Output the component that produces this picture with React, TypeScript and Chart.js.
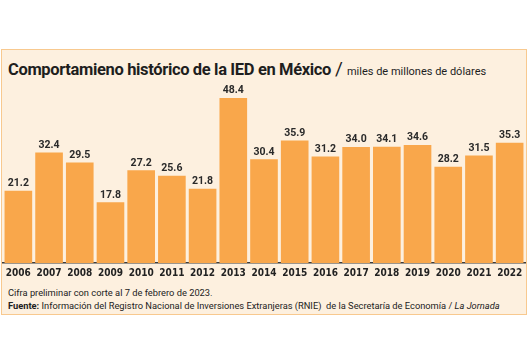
import React, { useEffect, useRef } from "react";
import { Chart, registerables } from "chart.js";

Chart.register(...registerables);

const years = ["2006","2007","2008","2009","2010","2011","2012","2013","2014","2015","2016","2017","2018","2019","2020","2021","2022"];
const values = [21.2, 32.4, 29.5, 17.8, 27.2, 25.6, 21.8, 48.4, 30.4, 35.9, 31.2, 34.0, 34.1, 34.6, 28.2, 31.5, 35.3];

const BAR = "#f9a74b";
const BG = "#fdf0df";
const BORDER = "#f8c98f";

const valueLabels = {
  id: "valueLabels",
  afterDatasetsDraw(chart: any) {
    const ctx = chart.ctx;
    const meta = chart.getDatasetMeta(0);
    ctx.save();
    ctx.font = "bold 10.5px Roboto, 'DejaVu Sans', sans-serif";
    ctx.fillStyle = "#2a2a2a";
    ctx.textAlign = "center";
    ctx.textBaseline = "bottom";
    meta.data.forEach((bar: any, i: number) => {
      ctx.fillText(values[i].toFixed(1), bar.x, bar.y - 2);
    });
    ctx.restore();
  },
};

export default function App() {
  const ref = useRef<HTMLCanvasElement>(null);
  useEffect(() => {
    document.body.style.margin = "0";
    const chart = new Chart(ref.current!, {
      type: "bar",
      data: {
        labels: years,
        datasets: [
          {
            data: values,
            backgroundColor: BAR,
            barPercentage: 0.9,
            categoryPercentage: 1,
          },
        ],
      },
      options: {
        animation: false,
        responsive: false,
        layout: { padding: { left: 3, right: 5, top: 10.5, bottom: 0 } },
        plugins: { legend: { display: false }, tooltip: { enabled: false } },
        scales: {
          x: {
            grid: { display: false, drawTicks: false },
            border: { display: true, color: "#3a3a3a", width: 1.5 },
            ticks: {
              color: "#222",
              padding: 4,
              maxRotation: 0,
              minRotation: 0,
              autoSkip: false,
              font: { family: "'DejaVu Sans Condensed', 'Liberation Sans Narrow', sans-serif", size: 10, weight: "bold" },
            },
          },
          y: { display: false, min: 0, max: 50 },
        },
      },
      plugins: [valueLabels],
    });
    return () => chart.destroy();
  }, []);

  return (
    <div style={{ position: "fixed", left: 0, top: 0, width: 530, height: 353, background: "#fff", overflow: "hidden", fontFamily: "Roboto, 'Noto Sans', sans-serif" }}>
      <div style={{ position: "absolute", left: 1, top: 49, width: 524, height: 264, background: BG, border: `1.5px solid ${BORDER}` }} />
      <div style={{ position: "absolute", left: 8, top: 57, whiteSpace: "nowrap", color: "#1e1e1e" }}>
        <span style={{ fontWeight: 700, fontSize: 16.5, letterSpacing: -0.35 }}>Comportamieno histórico de la IED en México</span>
        <span style={{ fontSize: 19, marginLeft: 4, marginRight: 4 }}>/</span>
        <span style={{ fontSize: 11 }}>miles de millones de dólares</span>
      </div>
      <canvas ref={ref} width={530} height={201} style={{ position: "absolute", left: 0, top: 82, width: 530, height: 201 }} />
      <div style={{ position: "absolute", left: 8, top: 286, fontSize: 9.3, lineHeight: "13px", color: "#222", whiteSpace: "nowrap" }}>
        <div>Cifra preliminar con corte al 7 de febrero de 2023.</div>
        <div><b>Fuente:</b> Información del Registro Nacional de Inversiones Extranjeras (RNIE)&nbsp; de la Secretaría de Economía / <i>La Jornada</i></div>
      </div>
    </div>
  );
}
